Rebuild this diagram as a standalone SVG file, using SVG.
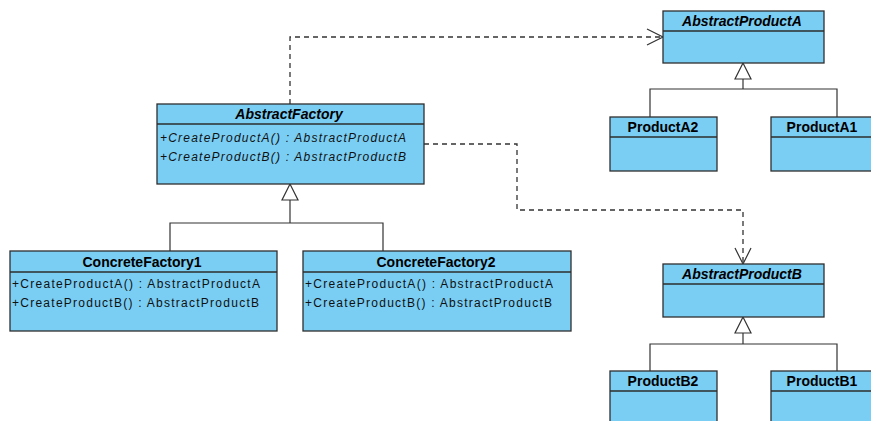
<svg xmlns="http://www.w3.org/2000/svg" width="871" height="421" viewBox="0 0 871 421">
  <style>
    .box { fill: #7ACEF4; stroke: #2E2E2E; stroke-width: 1.3; }
    .sep { stroke: #2E2E2E; stroke-width: 1.3; }
    .title { font-family: "Liberation Sans", Arial, sans-serif; font-size: 14px; font-weight: bold; fill: #000; text-anchor: middle; }
    .abs { font-style: italic; }
    .op { font-family: "Liberation Sans", Arial, sans-serif; font-size: 12px; fill: #111; }
    .line { fill: none; stroke: #333; stroke-width: 1.2; }
    .dash { fill: none; stroke: #333; stroke-width: 1.3; stroke-dasharray: 5 4; }
    .tri { fill: #fff; stroke: #333; stroke-width: 1.2; }
    .open { fill: none; stroke: #333; stroke-width: 1.2; }
  </style>

  <!-- connectors: generalizations and dependencies -->
  <g id="connectors">
    <!-- AbstractFactory generalization -->
    <polyline class="line" points="170,251 170,223 383,223 383,251"/>
    <line class="line" x1="290" y1="200" x2="290" y2="223"/>
    <polygon class="tri" points="290,184 282,200 298,200"/>

    <!-- AbstractProductA generalization -->
    <polyline class="line" points="650,117 650,89 837,89 837,117"/>
    <line class="line" x1="743" y1="79" x2="743" y2="89"/>
    <polygon class="tri" points="743,63 735,79 751,79"/>

    <!-- AbstractProductB generalization -->
    <polyline class="line" points="650,371 650,344 837,344 837,371"/>
    <line class="line" x1="743" y1="333" x2="743" y2="344"/>
    <polygon class="tri" points="743,317 735,333 751,333"/>

    <!-- dependency to AbstractProductA -->
    <polyline class="dash" points="290,104 290,37 662,37"/>
    <polyline class="open" points="647,29 663,37 647,45"/>

    <!-- dependency to AbstractProductB -->
    <polyline class="dash" points="424,144 517,144 517,210 743,210 743,263"/>
    <polyline class="open" points="735,248 743,264 751,248"/>
  </g>

  <g id="AbstractFactory">
    <rect class="box" x="157" y="104" width="267" height="80"/>
    <line class="sep" x1="157" y1="124" x2="424" y2="124"/>
    <text class="title abs" x="289" y="119">AbstractFactory</text>
    <text class="op abs" x="160" y="142" textLength="246">+CreateProductA() : AbstractProductA</text>
    <text class="op abs" x="160" y="161" textLength="246">+CreateProductB() : AbstractProductB</text>
  </g>

  <g id="ConcreteFactory1">
    <rect class="box" x="10" y="251" width="267" height="80"/>
    <line class="sep" x1="10" y1="272" x2="277" y2="272"/>
    <text class="title" x="142" y="267">ConcreteFactory1</text>
    <text class="op" x="12" y="288" textLength="248">+CreateProductA() : AbstractProductA</text>
    <text class="op" x="12" y="307" textLength="247">+CreateProductB() : AbstractProductB</text>
  </g>

  <g id="ConcreteFactory2">
    <rect class="box" x="303" y="251" width="268" height="80"/>
    <line class="sep" x1="303" y1="272" x2="571" y2="272"/>
    <text class="title" x="436" y="267">ConcreteFactory2</text>
    <text class="op" x="305" y="288" textLength="248">+CreateProductA() : AbstractProductA</text>
    <text class="op" x="305" y="307" textLength="247">+CreateProductB() : AbstractProductB</text>
  </g>

  <g id="AbstractProductA">
    <rect class="box" x="663" y="11" width="161" height="52"/>
    <line class="sep" x1="663" y1="31" x2="824" y2="31"/>
    <text class="title abs" x="742" y="26">AbstractProductA</text>
  </g>

  <g id="ProductA2">
    <rect class="box" x="610" y="117" width="107" height="54"/>
    <line class="sep" x1="610" y1="137" x2="717" y2="137"/>
    <text class="title" x="663" y="132">ProductA2</text>
  </g>

  <g id="ProductA1">
    <rect class="box" x="771" y="117" width="107" height="54"/>
    <line class="sep" x1="771" y1="137" x2="878" y2="137"/>
    <text class="title" x="822" y="132">ProductA1</text>
  </g>

  <g id="AbstractProductB">
    <rect class="box" x="663" y="264" width="161" height="53"/>
    <line class="sep" x1="663" y1="284" x2="824" y2="284"/>
    <text class="title abs" x="742" y="279">AbstractProductB</text>
  </g>

  <g id="ProductB2">
    <rect class="box" x="610" y="371" width="107" height="60"/>
    <line class="sep" x1="610" y1="391" x2="717" y2="391"/>
    <text class="title" x="663" y="386">ProductB2</text>
  </g>

  <g id="ProductB1">
    <rect class="box" x="771" y="371" width="107" height="60"/>
    <line class="sep" x1="771" y1="391" x2="878" y2="391"/>
    <text class="title" x="822" y="386">ProductB1</text>
  </g>
</svg>
